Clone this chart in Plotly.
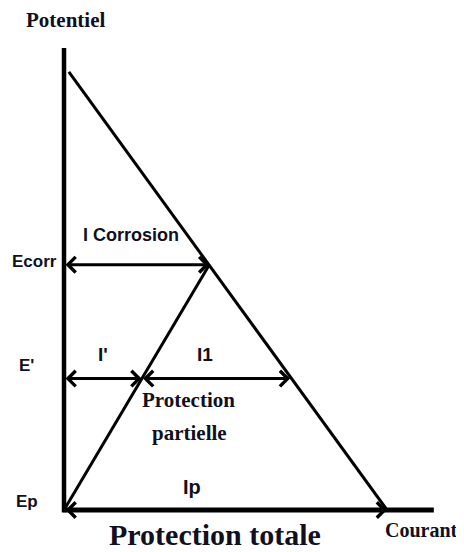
import plotly.graph_objects as go

# potentials (vertical axis), Ep at the origin
potential_names = ["Ep", "E'", "Ecorr"]
potential_values = [0.0, 3.0, 5.6]

# anodic line (from top near the axis down to the current axis)
anodic_current = [0.15, 10.0]
anodic_potential = [10.0, 0.0]

# cathodic line from Ep up to the corrosion point
cathodic_current = [0.0, 4.5]
cathodic_potential = [0.0, 5.6]

# current arrows: (start, end) at a given potential
i_corr = [0.0, 4.5]
i_prime = [0.0, 2.4]
i_one = [2.4, 7.0]
i_p = [0.0, 10.0]

# axis extents
axis_current = [-0.05, 11.45]
axis_potential = [-0.05, 10.55]

INK = "#101020"
SERIF = "Liberation Serif, Times New Roman, serif"
SANS = "Liberation Sans, Arial, sans-serif"

fig = go.Figure()

# axes
fig.add_trace(go.Scatter(x=[0, 0], y=axis_potential, mode="lines",
                         line=dict(color="black", width=4.5), hoverinfo="skip"))
fig.add_trace(go.Scatter(x=axis_current, y=[0, 0], mode="lines",
                         line=dict(color="black", width=5), hoverinfo="skip"))

# anodic and cathodic lines
fig.add_trace(go.Scatter(x=anodic_current, y=anodic_potential, mode="lines",
                         line=dict(color="black", width=3), hoverinfo="skip"))
fig.add_trace(go.Scatter(x=cathodic_current, y=cathodic_potential, mode="lines",
                         line=dict(color="black", width=3), hoverinfo="skip"))


def double_arrow(span, pot):
    fig.add_annotation(x=span[1], y=pot, ax=span[0], ay=pot,
                       xref="x", yref="y", axref="x", ayref="y", text="",
                       showarrow=True, arrowside="end+start",
                       arrowhead=4, startarrowhead=4,
                       arrowsize=1, startarrowsize=1,
                       arrowwidth=3, arrowcolor="black",
                       standoff=0, startstandoff=0)


double_arrow(i_corr, potential_values[2])
double_arrow(i_prime, potential_values[1])
double_arrow(i_one, potential_values[1])
double_arrow(i_p, potential_values[0])


def label(text, x, y, size, family):
    fig.add_annotation(x=x, y=y, xref="x", yref="y", text=f"<b>{text}</b>",
                       showarrow=False, xanchor="center", yanchor="middle",
                       font=dict(family=family, size=size, color=INK))


label("Potentiel", 0.05, 11.19, 21, SERIF)
label("Courant", 11.08, -0.46, 20, SERIF)

label("Ecorr", -0.9, potential_values[2] + 0.07, 17, SANS)
label("E'", -1.15, potential_values[1] + 0.3, 17, SANS)
label("Ep", -1.15, potential_values[0] + 0.2, 17, SANS)

label("I Corrosion", 2.07, 6.28, 18, SANS)
label("I'", 1.2, 3.54, 19, SANS)
label("I1", 4.37, 3.54, 19, SANS)
label("Ip", 3.96, 0.53, 20, SANS)

label("Protection", 3.84, 2.51, 21, SERIF)
label("partielle", 3.9, 1.76, 21, SERIF)
label("Protection totale", 4.67, -0.57, 30, SERIF)

# the page puts the plot 8px in from the top-left corner
fig.update_layout(
    width=456, height=544,
    margin=dict(l=0, r=0, t=0, b=0),
    paper_bgcolor="white", plot_bgcolor="white",
    showlegend=False,
    xaxis=dict(range=[-1.734, 12.384], visible=False, fixedrange=True),
    yaxis=dict(range=[-0.959, 11.461], visible=False, fixedrange=True),
)

fig.write_html("out.html")
